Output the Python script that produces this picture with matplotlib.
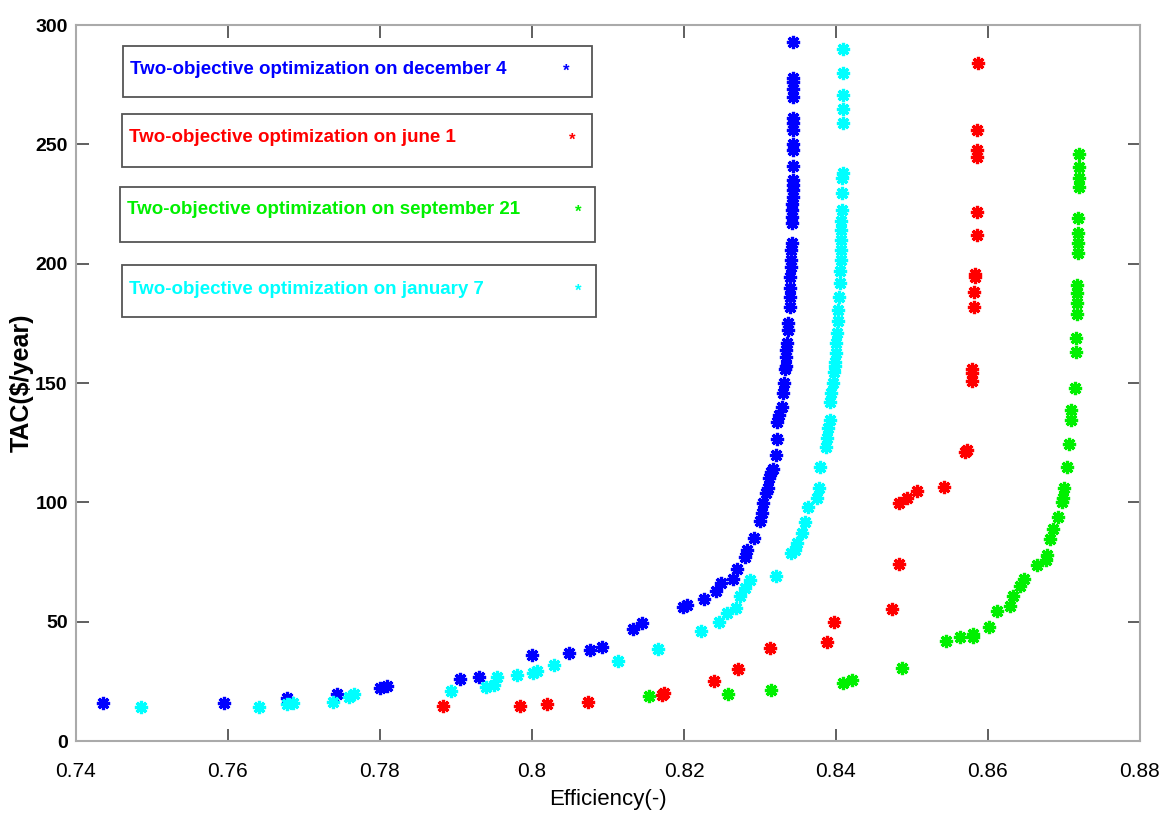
import matplotlib
matplotlib.use("Agg")
import matplotlib.pyplot as plt
from matplotlib.patches import Rectangle

# december 4 (blue)
dec_x = [0.7435, 0.7595, 0.7678, 0.7743, 0.7800, 0.7809, 0.7905, 0.7930, 0.8000, 0.8049,
         0.8076, 0.8092, 0.8133, 0.8145, 0.8199, 0.8204, 0.8226, 0.8242, 0.8249, 0.8265,
         0.8270, 0.8280, 0.8283, 0.8292, 0.8300, 0.8303, 0.8304, 0.8308, 0.8310, 0.8312,
         0.8314, 0.8317, 0.8321, 0.8323, 0.8323, 0.8325, 0.8329, 0.8330, 0.8332, 0.8333,
         0.8334, 0.8334, 0.8334, 0.8335, 0.8337, 0.8337, 0.8339, 0.8340, 0.8340, 0.8340,
         0.8341, 0.8341, 0.8341, 0.8342, 0.8342, 0.8342, 0.8342, 0.8342, 0.8343, 0.8343,
         0.8343, 0.8343, 0.8343, 0.8343, 0.8343, 0.8343, 0.8343, 0.8343, 0.8343, 0.8343,
         0.8343, 0.8343, 0.8344]
dec_y = [16, 16, 18, 19.7, 22, 23, 26, 26.8, 36, 36.8,
         38, 39.4, 47, 49.4, 56, 57, 59.5, 63, 66, 68,
         72, 77, 80, 85, 92, 95.5, 99.7, 104, 106, 110,
         112.6, 114, 120, 126.5, 133.6, 136.5, 140, 146, 150, 156,
         157, 161, 164, 166.7, 172, 175, 182, 186, 190, 194.4,
         198.6, 201.5, 205.7, 208.6, 217, 219.5, 222.5, 225, 228, 231,
         233, 235, 241, 247.6, 250, 256, 259, 261, 270, 273,
         276, 278, 293]

# january 7 (cyan)
jan_x = [0.7486, 0.7641, 0.7678, 0.7686, 0.7738, 0.7759, 0.7766, 0.7894, 0.7939, 0.7950,
         0.7954, 0.7980, 0.8001, 0.8006, 0.8029, 0.8113, 0.8166, 0.8222, 0.8246, 0.8256,
         0.8268, 0.8274, 0.8280, 0.8287, 0.8321, 0.8341, 0.8346, 0.8349, 0.8355, 0.8359,
         0.8363, 0.8375, 0.8377, 0.8379, 0.8387, 0.8388, 0.8390, 0.8392, 0.8392, 0.8394,
         0.8396, 0.8398, 0.8399, 0.8399, 0.8400, 0.8400, 0.8401, 0.8403, 0.8403, 0.8404,
         0.8405, 0.8405, 0.8407, 0.8407, 0.8407, 0.8407, 0.8407, 0.8408, 0.8408, 0.8408,
         0.8409, 0.8409, 0.8409, 0.8409, 0.8409, 0.8409]
jan_y = [14.3, 14.3, 15.5, 16, 16.3, 18.4, 19.7, 21, 22.6, 23.5,
         26.8, 27.6, 28.5, 29.3, 31.8, 33.5, 38.5, 46, 50, 53.6,
         55.7, 60.7, 64, 67.5, 69, 78.7, 80, 83, 87, 91.7,
         98, 102, 106, 115, 123, 127, 131, 134.5, 142, 146,
         150, 154.6, 157, 159, 162.5, 166.7, 171, 176, 180.6, 186,
         192, 197, 201.5, 205.7, 210, 214, 218, 222.5, 229.6, 236,
         238, 259, 265, 270.6, 280, 290]

# june 1 (red)
jun_x = [0.7883, 0.7984, 0.8020, 0.8074, 0.8171, 0.8174, 0.8239, 0.8271, 0.8313, 0.8388,
         0.8397, 0.8474, 0.8483, 0.8483, 0.8493, 0.8507, 0.8542, 0.8570, 0.8572, 0.8579,
         0.8579, 0.8579, 0.8582, 0.8582, 0.8583, 0.8583, 0.8585, 0.8586, 0.8586, 0.8586,
         0.8586, 0.8587]
jun_y = [14.7, 14.7, 15.5, 16.3, 19.3, 20, 25, 30, 39, 41.5,
         50, 55.3, 74, 99.7, 101.8, 104.7, 106.4, 121, 122, 151,
         154, 156, 182, 188, 194.4, 195.6, 212, 221.6, 244.6, 247.6,
         256, 284]

# september 21 (green)
sep_x = [0.8154, 0.8258, 0.8314, 0.8409, 0.8421, 0.8487, 0.8545, 0.8563, 0.8580, 0.8580,
         0.8601, 0.8612, 0.8629, 0.8633, 0.8642, 0.8647, 0.8664, 0.8676, 0.8677, 0.8682,
         0.8686, 0.8692, 0.8697, 0.8699, 0.8700, 0.8704, 0.8707, 0.8709, 0.8709, 0.8714,
         0.8716, 0.8716, 0.8717, 0.8717, 0.8717, 0.8717, 0.8718, 0.8718, 0.8718, 0.8718,
         0.8720, 0.8720, 0.8720, 0.8720]
sep_y = [18.9, 19.7, 21.4, 24.3, 25.6, 30.6, 42, 43.6, 43.6, 44.8,
         47.8, 54.5, 56.6, 60.7, 65, 67.8, 73.7, 75.8, 78, 84.6,
         88.8, 93.8, 100, 102, 106, 114.8, 124.4, 134.5, 138.6, 148,
         163, 168.8, 179, 183.5, 187.7, 191, 204.4, 208.6, 212.8, 219,
         232, 236, 240.5, 246]

series = [
    (dec_x, dec_y, "#0000ff", "Two-objective optimization on december 4"),
    (jun_x, jun_y, "#ff0000", "Two-objective optimization on june 1"),
    (sep_x, sep_y, "#00f000", "Two-objective optimization on september 21"),
    (jan_x, jan_y, "#00ffff", "Two-objective optimization on january 7"),
]

W, H = 1165, 819
fig = plt.figure(figsize=(W / 100, H / 100), dpi=100)
ax = fig.add_axes([76 / W, 1 - 741 / H, (1140 - 76) / W, (741 - 25) / H])

for xs, ys, c, lab in series:
    ax.plot(xs, ys, linestyle="none", marker=(8, 2, 0), markersize=9.5,
            markeredgewidth=2.3, color=c)

ax.set_xlim(0.74, 0.88)
ax.set_ylim(0, 300)
ax.set_xticks([0.74, 0.76, 0.78, 0.8, 0.82, 0.84, 0.86, 0.88])
ax.set_xticklabels(["0.74", "0.76", "0.78", "0.8", "0.82", "0.84", "0.86", "0.88"],
                   fontfamily="Liberation Sans", fontsize=15)
ax.set_yticks([0, 50, 100, 150, 200, 250, 300])
ax.set_yticklabels(["0", "50", "100", "150", "200", "250", "300"],
                   fontfamily="Liberation Sans", fontweight="bold", fontsize=14)
ax.tick_params(direction="in", top=True, right=True, length=9, width=1.2,
               color="#444444")
ax.tick_params(axis="x", pad=15)
ax.tick_params(axis="y", pad=6)
for s in ax.spines.values():
    s.set_color("#aaaaaa")
    s.set_linewidth(1.5)

ax.set_xlabel("Efficiency(-)", fontfamily="Liberation Sans", fontsize=16, labelpad=6)
ax.set_ylabel("TAC($/year)", fontfamily="Liberation Sans", fontweight="bold",
              fontsize=18, labelpad=1)

# the four boxed labels (pixel positions of the reference)
boxes = [(123, 46, 592, 97, 69, 566),
         (122, 114, 592, 167, 138, 572),
         (120, 187, 595, 242, 210, 578),
         (122, 265, 596, 317, 289, 578)]
for (x0, y0, x1, y1, ty, sx), (_, _, c, lab) in zip(boxes, series):
    fig.add_artist(Rectangle((x0 / W, 1 - y1 / H), (x1 - x0) / W, (y1 - y0) / H,
                             transform=fig.transFigure, facecolor="white",
                             edgecolor="#555555", linewidth=1.3))
    fig.text((x0 + 7) / W, 1 - ty / H, lab, color=c, fontfamily="Liberation Sans",
             fontweight="bold", fontsize=13.5, va="center", ha="left")
    fig.text(sx / W, 1 - (ty + 2) / H, "*", color=c, fontfamily="Liberation Sans",
             fontweight="bold", fontsize=12, va="center", ha="center")

fig.savefig("out.png", dpi=100)
